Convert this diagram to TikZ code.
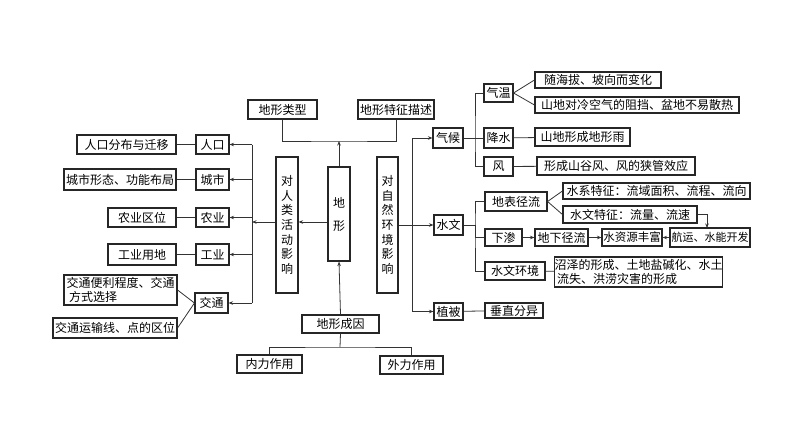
\documentclass[tikz,border=0pt]{standalone}
\usepackage{fontspec}
\newfontfamily\cjk{Noto Sans CJK SC}
\usetikzlibrary{arrows.meta}
\tikzset{
  bx/.style={draw=black!85, line width=1.1pt, inner sep=0pt, font=\cjk\fontsize{12}{14.5}\selectfont, align=center, text=black},
  ln/.style={line width=0.8pt, draw=black!80},
  ar/.style={line width=0.8pt, draw=black!80, -{Stealth[length=4.5pt,width=3.5pt]}},
  vtxt/.style={font=\cjk\fontsize{12}{14.7}\selectfont},
}
\newcommand\mybox[7][]{\node[bx, minimum width=#5-#3, minimum height=#6-#4, #1] (#2) at ({(#3+#5)/2},{(#4+#6)/2}) {#7};}
\begin{document}
\begin{tikzpicture}[x=1pt,y=-1pt]
\useasboundingbox (0,0) rectangle (794,447);
% centre column
\mybox{lxlx}{248}{100}{317}{119}{地形类型}
\mybox{lxtz}{358}{100}{434}{119}{地形特征描述}
\mybox[font=\cjk\fontsize{12}{23}\selectfont]{dx}{328}{167}{350}{261}{地\\形}
\mybox[vtxt]{drl}{276}{157}{298}{293}{对\\人\\类\\活\\动\\影\\响}
\mybox[vtxt]{dzr}{377}{157}{398}{293}{对\\自\\然\\环\\境\\影\\响}
\mybox{cy}{302}{315}{379}{333}{地形成因}
\mybox{nl}{237}{355}{302}{373}{内力作用}
\mybox{wl}{380}{356}{443}{374}{外力作用}
\coordinate (tj) at (339,141);
\draw[ar] (dx.north) -- (tj);
\draw[ln] (lxlx.south) |- (tj) -| (lxtz.south);
\draw[ar] (cy.north) -- (dx.south);
\coordinate (bj) at (340,347);
\draw[ln] (cy.south) -- (bj);
\draw[ln] (nl.north) |- (bj) -| (wl.north);
% left side
\coordinate (lv) at (252,222);
\draw[ar] (dx.west |- lv) -- (drl.east |- lv);
\draw[ar] (drl.west |- lv) -- (lv);
\mybox{rk}{196}{135}{229}{154}{人口}
\mybox{rkd}{77}{135}{176}{154}{人口分布与迁移}
\mybox{cs}{196}{169}{229}{190}{城市}
\mybox{csd}{64}{169}{176}{190}{城市形态、功能布局}
\mybox{ny}{196}{208}{229}{227}{农业}
\mybox{nyd}{108}{208}{176}{227}{农业区位}
\mybox{gy}{196}{244}{229}{265}{工业}
\mybox{gyd}{108}{244}{176}{265}{工业用地}
\mybox{jt}{195}{293}{228}{313}{交通}
\mybox[align=left]{jt1}{64}{275}{177}{305}{交通便利程度、交通\\\ 方式选择}
\mybox{jt2}{53}{318}{177}{338}{交通运输线、点的区位}
\draw[ln] (lv |- rk.east) -- (lv |- jt.east);
\foreach \n in {rk,cs,ny,gy,jt} \draw[ar] (lv |- \n.east) -- (\n.east);
\draw[ln] (rkd) -- (rk);
\draw[ln] (csd) -- (cs);
\draw[ln] (nyd) -- (ny);
\draw[ln] (gyd) -- (gy);
\draw[ln] (jt1.east) -- (jt.west);
\draw[ln] (jt2.east) -- (jt.west);
% right side
\mybox{qh}{433}{128}{463}{148}{气候}
\mybox{sw}{434}{215}{463}{235}{水文}
\mybox{zb}{434}{303}{463}{320}{植被}
\coordinate (rv) at (412,225);
\draw[ar] (dzr.east) -- (sw.west);
\draw[ar] (rv) |- (qh.west);
\draw[ar] (rv) |- (zb.west);
% climate
\mybox{qw}{484}{84}{513}{102}{气温}
\mybox{js}{484}{128}{513}{148}{降水}
\mybox{fe}{484}{157}{513}{176}{风}
\coordinate (qj) at (475,138);
\draw[ln] (qh.east) -- (qj);
\draw[ln] (qw.west) -| (qj) |- (fe.west);
\draw[ln] (qj) -- (js.west);
\mybox{qw1}{535}{72}{661}{88}{随海拔、坡向而变化}
\mybox{qw2}{535}{97}{739}{113}{山地对冷空气的阻挡、盆地不易散热}
\draw[ln] (qw.east) -- (qw1.west);
\draw[ln] (qw.east) -- (qw2.west);
\mybox{js1}{535}{128}{630}{146}{山地形成地形雨}
\mybox{fe1}{537}{157}{695}{175}{形成山谷风、风的狭管效应}
\draw[ln] (js) -- (js1);
\draw[ln] (fe) -- (fe1);
% hydrology
\mybox{dbjl}{485}{192}{547}{211}{地表径流}
\mybox{xs}{485}{229}{522}{246}{下渗}
\mybox{swhj}{485}{262}{545}{280}{水文环境}
\coordinate (sj) at (475,225);
\draw[ln] (sw.east) -- (sj);
\draw[ln] (dbjl.west) -| (sj) |- (swhj.west);
\draw[ln] (sj) |- (xs.west);
\mybox{sx}{563}{183}{750}{199}{水系特征：流域面积、流程、流向}
\mybox{swtz}{563}{206}{697}{223}{水文特征：流量、流速}
\draw[ln] (dbjl.east) -- (sx.west);
\draw[ln] (dbjl.east) -- (swtz.west);
\mybox{dxjl}{535}{229}{588}{246}{地下径流}
\mybox[font=\cjk\fontsize{11.5}{13}\selectfont]{szy}{602}{229}{662}{246}{水资源丰富}
\mybox[font=\cjk\fontsize{11}{13}\selectfont]{hy}{670}{228}{750}{247}{航运、水能开发}
\draw[ar] (xs) -- (dxjl);
\draw[ar] (dxjl) -- (szy);
\draw[ar] (hy) -- (szy);
\coordinate (hyt) at (707,228);
\draw[ar] (swtz.east) -| (hyt);
\mybox[align=left]{swhj1}{559}{257}{718}{287}{沼泽的形成、土地盐碱化、水土\\\ 流失、洪涝灾害的形成}
\draw[ln] (swhj) -- (swhj1);
\mybox{czfy}{485}{303}{543}{318}{垂直分异}
\draw[ln] (zb) -- (czfy);
\end{tikzpicture}
\end{document}
